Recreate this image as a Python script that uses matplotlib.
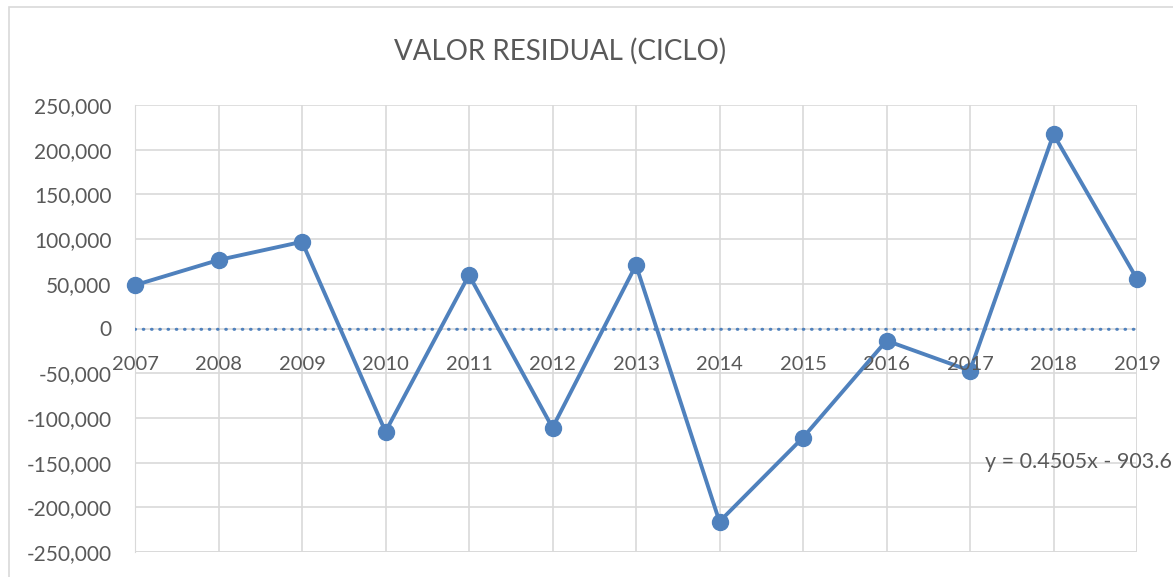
import matplotlib

matplotlib.use("Agg")
import matplotlib.pyplot as plt
from matplotlib.patches import Rectangle
from matplotlib.ticker import FuncFormatter
import numpy as np

plt.rcParams["font.family"] = ["Lato", "DejaVu Sans"]

years = ["2007", "2008", "2009", "2010", "2011", "2012", "2013",
         "2014", "2015", "2016", "2017", "2018", "2019"]
residual = [48500, 76600, 97000, -115400, 59800, -111000, 71000,
            -216000, -122000, -13600, -47200, 217200, 55400]
trend_slope = 0.4505
trend_intercept = -903.65
yticks = [-250000, -200000, -150000, -100000, -50000, 0,
          50000, 100000, 150000, 200000, 250000]

blue = "#4f81bd"
grid = "#d9d9d9"
text_c = "#595959"

fig = plt.figure(figsize=(11.73, 5.77), dpi=100)
# chart area border (extends past the image on right/bottom)
fig.patches.append(Rectangle((9 / 1173, -0.1), 1.2, 1 - 7 / 577 + 0.1,
                             transform=fig.transFigure, fill=False,
                             edgecolor=grid, linewidth=1.2))

ax = fig.add_axes([135 / 1173, 1 - 552 / 577, (1137 - 135) / 1173, (552 - 105) / 577])

x = np.arange(len(years))
ax.plot(x, residual, color=blue, linewidth=2.8, marker="o", markersize=11.5, zorder=4,
        clip_on=False)

# linear trend line (x counted from 1 as in Excel)
trend = trend_slope * (x + 1) + trend_intercept
ax.plot(x, trend, color=blue, linewidth=2.2, linestyle=(0, (0.2, 2.5)),
        dash_capstyle="round", zorder=3)

ax.set_xlim(0, len(years) - 1)
ax.set_ylim(-250000, 250000)
ax.set_yticks(yticks)
ax.yaxis.set_major_formatter(FuncFormatter(lambda v, p: f"{int(v):,}"))
ax.set_xticks(x)
ax.set_xticklabels([])

for s in ["top", "right", "bottom"]:
    ax.spines[s].set_visible(False)
ax.spines["left"].set_color(grid)
ax.grid(True, color=grid, linewidth=1.2)
ax.set_axisbelow(True)
ax.tick_params(axis="both", length=0, labelsize=15, colors=text_c)
ax.tick_params(axis="y", pad=17)

# bottom / right border of plot area
ax.axhline(-250000, color=grid, linewidth=1.2, zorder=0)
ax.axvline(len(years) - 1, color=grid, linewidth=1.2, zorder=0)

# category labels sit on the zero axis
for xi, lab in zip(x, years):
    ax.annotate(lab, xy=(xi, 0), xytext=(0, -32), textcoords="offset points",
                ha="center", va="bottom", fontsize=14.5, color=text_c,
                annotation_clip=False, zorder=5)

fig.text(985 / 1173, 1 - 462 / 577, f"y = {trend_slope}x - {abs(trend_intercept)}",
         fontsize=15.5, color=text_c, ha="left", va="center")

fig.text(560 / 1173, 1 - 51 / 577, "VALOR RESIDUAL (CICLO)", fontsize=20,
         color=text_c, ha="center", va="center")

fig.savefig("out.png", dpi=100)
